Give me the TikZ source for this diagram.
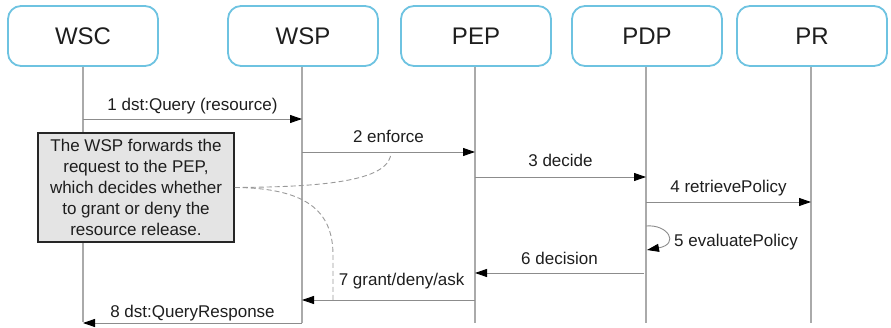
\documentclass[tikz,border=0pt]{standalone}
\usepackage{fontspec}
\setmainfont{Liberation Sans}
\usetikzlibrary{arrows.meta}
\definecolor{boxblue}{RGB}{110,195,225}
\definecolor{notegray}{RGB}{228,228,228}
\definecolor{lifegray}{RGB}{170,170,170}
\definecolor{msggray}{RGB}{140,140,140}
\definecolor{txt}{RGB}{30,30,30}
\tikzset{
  actor/.style={draw=boxblue, line width=1.8pt, rounded corners=13pt, minimum width=150pt, minimum height=60pt, font=\fontsize{24}{28}\selectfont, text=txt, fill=white},
  life/.style={draw=lifegray, line width=1.2pt},
  msg/.style={draw=msggray, line width=0.9pt, -{Triangle[length=12pt,width=8pt,color=black]}},
  lbl/.style={font=\fontsize{17}{20}\selectfont, text=txt, inner sep=0pt, anchor=base},
  notebox/.style={draw=black!85, line width=1.5pt, fill=notegray, minimum width=196pt, minimum height=109pt, align=center, font=\fontsize{17}{21}\selectfont, text=txt, inner sep=2pt},
  dashlink/.style={draw=gray!80, line width=0.9pt, dash pattern=on 5pt off 3pt}
}
\begin{document}
\begin{tikzpicture}[x=1pt,y=-1pt]
\useasboundingbox (0,0) rectangle (891,328);
% actors
\node[actor] (wsc) at (83,36) {WSC};
\node[actor] (wsp) at (303,36) {WSP};
\node[actor] (pep) at (476,36) {PEP};
\node[actor] (pdp) at (647,36) {PDP};
\node[actor] (pr)  at (812,36) {PR};
% lifeline ends
\coordinate (wscE) at (83,322);
\coordinate (wspE) at (302,323);
\coordinate (pepE) at (475,323);
\coordinate (pdpE) at (646,323);
\coordinate (prE)  at (811,323);
\draw[life] (wsc.south -| wscE) -- (wscE);
\draw[life] (wsp.south -| wspE) -- (wspE);
\draw[life] (pep.south -| pepE) -- (pepE);
\draw[life] (pdp.south -| pdpE) -- (pdpE);
\draw[life] (pr.south -| prE) -- (prE);
% message end points
\coordinate (m1a) at (83,119);  \coordinate (m1b) at (302,119);
\coordinate (m2a) at (302,152); \coordinate (m2b) at (475,152);
\coordinate (m3a) at (475,177); \coordinate (m3b) at (646,177);
\coordinate (m4a) at (646,202); \coordinate (m4b) at (811,202);
\coordinate (m5a) at (646,226); \coordinate (m5b) at (647,250);
\coordinate (m6a) at (644,273); \coordinate (m6b) at (475,273);
\coordinate (m7a) at (475,300); \coordinate (m7b) at (302,300);
\coordinate (m8a) at (302,323); \coordinate (m8b) at (83,323);
% messages
\draw[msg] (m1a) -- node[lbl, yshift=8.5pt] (l1) {1 dst:Query (resource)} (m1b);
\draw[msg] (m2a) -- node[lbl, yshift=9pt] (l2) {2 enforce} (m2b);
\draw[msg] (m3a) -- node[lbl, yshift=10pt] (l3) {3 decide} (m3b);
\draw[msg] (m4a) -- node[lbl, yshift=9pt] (l4) {4 retrievePolicy} (m4b);
\draw[msg] (m5a) .. controls (668,224) and (680,244) .. (m5b);
\node[lbl, anchor=base west] (l5) at (674,246.5) {5 evaluatePolicy};
\draw[msg] (m6a) -- node[lbl, yshift=8.5pt] (l6) {6 decision} (m6b);
\draw[msg] (m7a) -- node[lbl, pos=0.79, anchor=base west, yshift=14pt] (l7) {7 grant/deny/ask} (m7b);
\draw[msg] (m8a) -- node[lbl, yshift=5pt] (l8) {8 dst:QueryResponse} (m8b);
% note
\node[notebox] (note) at (136,187.5) {The WSP forwards the\\request to the PEP,\\which decides whether\\to grant or deny the\\resource release.};
\coordinate (d2) at (391,152);
\coordinate (d7) at (333,300);
\draw[dashlink] (note.east) .. controls (330,187) and (391,180) .. (d2);
\draw[dashlink] (note.east) .. controls (305,188) and (333,210) .. (333,255) -- (d7);
\end{tikzpicture}
\end{document}
